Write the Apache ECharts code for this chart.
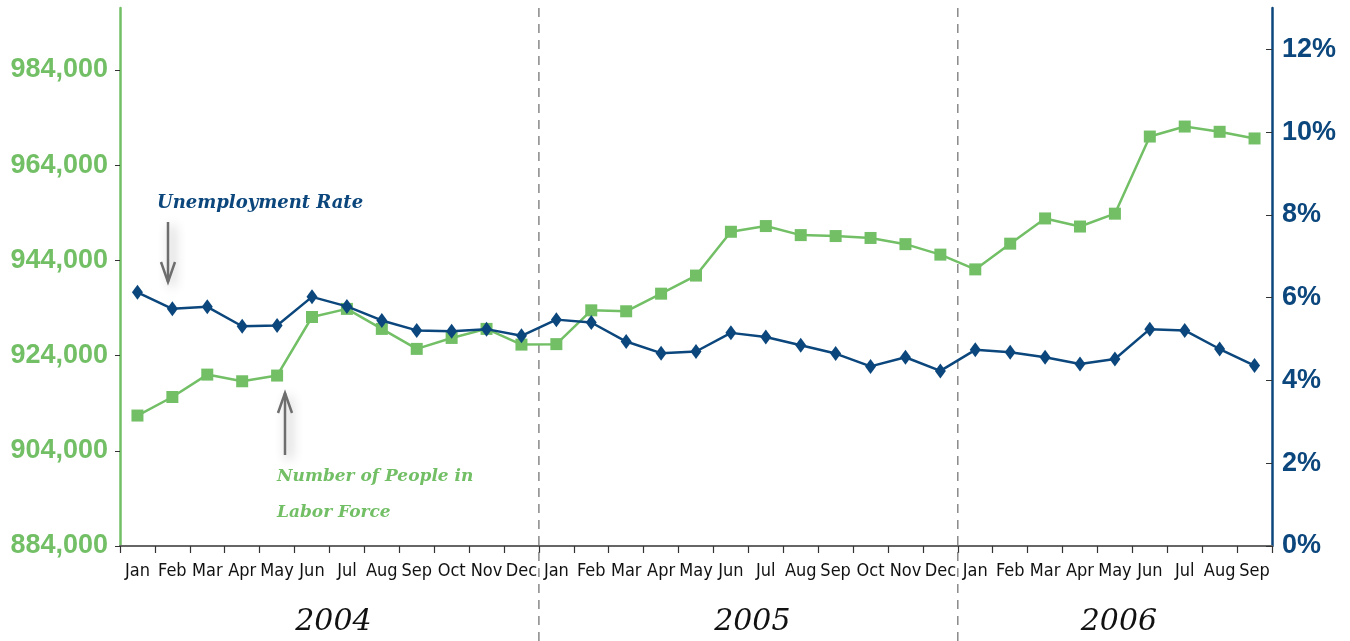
<!DOCTYPE html>
<html><head><meta charset="utf-8">
<script src="https://cdn.jsdelivr.net/npm/echarts@6/dist/echarts.min.js"></script>
<style>html,body{margin:0;padding:0;background:#fff}#c{width:1350px;height:641px}</style>
</head><body><div id="c"></div>
<script>
const months = ['Jan','Feb','Mar','Apr','May','Jun','Jul','Aug','Sep','Oct','Nov','Dec',
  'Jan','Feb','Mar','Apr','May','Jun','Jul','Aug','Sep','Oct','Nov','Dec',
  'Jan','Feb','Mar','Apr','May','Jun','Jul','Aug','Sep'];
const yearOfMonth = [
  '2004','2004','2004','2004','2004','2004','2004','2004','2004','2004','2004','2004',
  '2005','2005','2005','2005','2005','2005','2005','2005','2005','2005','2005','2005',
  '2006','2006','2006','2006','2006','2006','2006','2006','2006'];
const years = ['2004','2005','2006'];
const laborForce = [911400, 915300, 920000, 918600, 919800, 932100, 933800, 929600, 925400, 927700, 929600, 926300,
  926400, 933500, 933300, 937000, 940800, 950000, 951200, 949300, 949100, 948700, 947400, 945200,
  942100, 947500, 952800, 951100, 953800, 970000, 972100, 971000, 969600];
const unemploymentRate = [6.13, 5.73, 5.78, 5.31, 5.33, 6.02, 5.79, 5.45, 5.21, 5.19, 5.24, 5.08,
  5.47, 5.40, 4.94, 4.66, 4.70, 5.15, 5.05, 4.85, 4.65, 4.34, 4.56, 4.23,
  4.74, 4.68, 4.56, 4.40, 4.52, 5.24, 5.21, 4.76, 4.36];
const leftTicks = [884000, 904000, 924000, 944000, 964000, 984000];
const rightTicks = [0, 2, 4, 6, 8, 10, 12];
const annUnemp = 'Unemployment Rate';
const annLabor1 = 'Number of People in';
const annLabor2 = 'Labor Force';

const GREEN = '#72bf66', BLUE = '#0b467c', GREY = '#666666';
const chart = echarts.init(document.getElementById('c'));
const scriptFont = '"DejaVu Serif", serif';

chart.setOption({
  animation: false,
  grid: {left: 120, right: 78, top: 8, bottom: 95, containLabel: false},
  xAxis: {
    type: 'category', data: months, boundaryGap: true,
    axisLine: {lineStyle: {color: GREY, width: 2}},
    axisTick: {show: true, length: 7, lineStyle: {color: '#333', width: 1.2}, interval: 0},
    axisLabel: {interval: 0, margin: 16, color: '#111', fontSize: 18,
      fontFamily: '"Liberation Sans Narrow", "DejaVu Sans Condensed", sans-serif'},
    splitLine: {show: false}
  },
  yAxis: [{
    type: 'value', position: 'left', min: 884000, max: 997000, interval: 20000,
    axisLine: {show: true, lineStyle: {color: GREEN, width: 2.5}},
    axisTick: {show: true, length: 5, lineStyle: {color: '#333'}, customValues: leftTicks},
    axisLabel: {customValues: leftTicks, color: GREEN, fontWeight: 'bold', fontSize: 27, margin: 12,
      fontFamily: 'Arial, "Liberation Sans", sans-serif',
      formatter: v => v.toLocaleString('en-US')},
    splitLine: {show: false}
  }, {
    type: 'value', position: 'right', min: 0, max: 13, interval: 2,
    axisLine: {show: true, lineStyle: {color: BLUE, width: 2.5}},
    axisTick: {show: true, inside: true, length: 6, lineStyle: {color: '#333'}, customValues: rightTicks},
    axisLabel: {customValues: rightTicks, color: BLUE, fontWeight: 'bold', fontSize: 27, margin: 10,
      fontFamily: 'Arial, "Liberation Sans", sans-serif',
      formatter: v => v + '%'},
    splitLine: {show: false}
  }],
  series: [{
    name: 'Labor Force', type: 'line', yAxisIndex: 0, data: laborForce,
    symbol: 'rect', symbolSize: 12,
    lineStyle: {color: GREEN, width: 2.5},
    itemStyle: {color: GREEN}, z: 2
  }, {
    name: 'Unemployment Rate', type: 'line', yAxisIndex: 1, data: unemploymentRate,
    symbol: 'diamond', symbolSize: [11, 15],
    lineStyle: {color: BLUE, width: 2.5},
    itemStyle: {color: BLUE}, z: 3
  }]
});

// decorations computed from axes
const boundaryX = i => (chart.convertToPixel({xAxisIndex: 0}, i - 1) + chart.convertToPixel({xAxisIndex: 0}, i)) / 2;
const graphics = [];
yearOfMonth.forEach((y, i) => {
  if (i > 0 && yearOfMonth[i - 1] !== y) {
    const x = boundaryX(i);
    graphics.push({type: 'line', shape: {x1: x, y1: 8, x2: x, y2: 641},
      style: {stroke: '#777', lineWidth: 1.3, lineDash: [9, 7]}, z: 1});
  }
});
years.forEach(y => {
  const idx = yearOfMonth.map((v, i) => v === y ? i : -1).filter(i => i >= 0);
  const a = chart.convertToPixel({xAxisIndex: 0}, idx[0]);
  const b = chart.convertToPixel({xAxisIndex: 0}, idx[idx.length - 1]);
  graphics.push({type: 'text', x: (a + b) / 2 + 4, y: 622,
    style: {text: y, fill: '#111', font: 'italic 30px ' + scriptFont, align: 'center', verticalAlign: 'middle'}});
});
// annotations
function arrow(x, yFrom, yTo) {
  const dir = yTo > yFrom ? 1 : -1;
  return [{type: 'line', shape: {x1: x, y1: yFrom, x2: x, y2: yTo},
      style: {stroke: '#6e6e6e', lineWidth: 2.5, shadowBlur: 12, shadowColor: 'rgba(0,0,0,0.45)', shadowOffsetX: 4, shadowOffsetY: 4}},
    {type: 'polyline', shape: {points: [[x - 7, yTo - dir * 20], [x, yTo], [x + 7, yTo - dir * 20]]},
      style: {stroke: '#6e6e6e', lineWidth: 2.5, fill: null}}];
}
graphics.push(...arrow(168, 222, 282));
graphics.push(...arrow(285, 455, 393));
graphics.push({type: 'text', x: 157, y: 203,
  style: {text: annUnemp, fill: BLUE, font: 'italic bold 18px ' + scriptFont, verticalAlign: 'middle'}});
graphics.push({type: 'text', x: 277, y: 477,
  style: {text: annLabor1, fill: GREEN, font: 'italic bold 17px ' + scriptFont, verticalAlign: 'middle'}});
graphics.push({type: 'text', x: 277, y: 513,
  style: {text: annLabor2, fill: GREEN, font: 'italic bold 17px ' + scriptFont, verticalAlign: 'middle'}});
chart.setOption({graphic: graphics});
</script></body></html>
